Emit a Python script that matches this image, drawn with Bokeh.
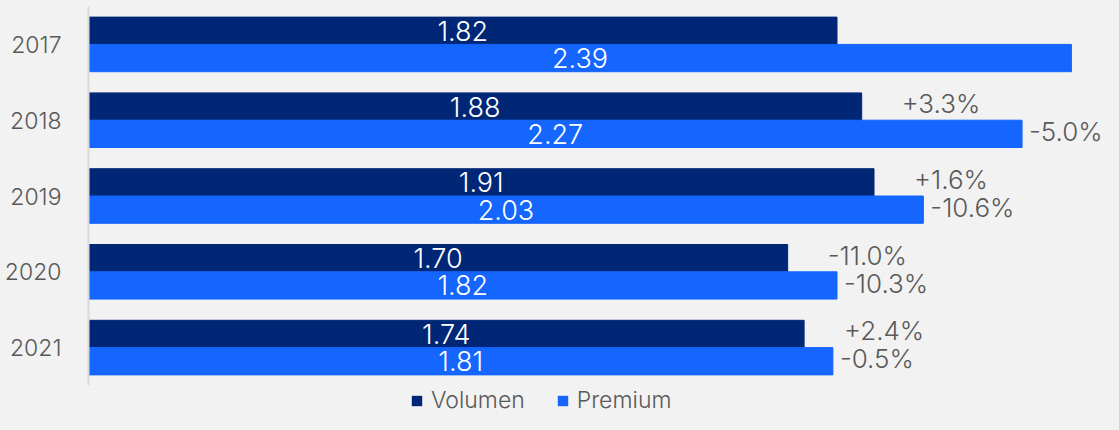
from bokeh.plotting import figure
from bokeh.models import ColumnDataSource, Legend, LegendItem, FactorRange, Range1d
from bokeh.layouts import column
from bokeh.transform import dodge
from bokeh.core.properties import value
from bokeh.embed import file_html
from bokeh.resources import INLINE

years = ["2017", "2018", "2019", "2020", "2021"]
volumen = [1.82, 1.88, 1.91, 1.70, 1.74]
premium = [2.39, 2.27, 2.03, 1.82, 1.81]
vol_change = ["", "+3.3%", "+1.6%", "-11.0%", "+2.4%"]
prem_change = ["", "-5.0%", "-10.6%", "-10.3%", "-0.5%"]
series = ["Volumen", "Premium"]

BG = "#f2f2f2"
NAVY = "#002776"
BLUE = "#1565ff"
GRAY = "#595959"
FONT = "Inter Light"

src = ColumnDataSource(dict(
    year=years,
    volumen=volumen,
    premium=premium,
    vol_half=[v / 2 for v in volumen],
    prem_half=[v / 2 for v in premium],
    vol_lbl=["%.2f" % v for v in volumen],
    prem_lbl=["%.2f" % v for v in premium],
    vol_change=vol_change,
    prem_change=prem_change,
))

p = figure(width=1103, height=385, y_range=FactorRange(factors=years[::-1]),
           x_range=(0, 2.468), output_backend="svg", toolbar_location=None,
           x_axis_location=None,
           background_fill_color=BG, border_fill_color=BG,
           min_border_left=88, min_border_right=0, min_border_top=6,
           min_border_bottom=0)
p.outline_line_color = None
p.grid.visible = False

p.hbar(y=dodge("year", 0.18, range=p.y_range), right="volumen", height=0.36,
       source=src, fill_color=NAVY, line_color=NAVY)
p.hbar(y=dodge("year", -0.18, range=p.y_range), right="premium", height=0.36,
       source=src, fill_color=BLUE, line_color=BLUE)

p.text(x="vol_half", y=dodge("year", 0.18, range=p.y_range), text="vol_lbl", source=src,
       text_color="white", text_font=value(FONT), text_font_size="27px",
       text_align="center", text_baseline="middle")
p.text(x="prem_half", y=dodge("year", -0.18, range=p.y_range), text="prem_lbl", source=src,
       text_color="white", text_font=value(FONT), text_font_size="27px",
       text_align="center", text_baseline="middle")
p.text(x="volumen", y=dodge("year", 0.22, range=p.y_range), text="vol_change", source=src,
       text_color=GRAY, text_font=value(FONT), text_font_size="26px", x_offset=40,
       text_align="left", text_baseline="middle")
p.text(x="premium", y=dodge("year", -0.15, range=p.y_range), text="prem_change", source=src,
       text_color=GRAY, text_font=value(FONT), text_font_size="26px", x_offset=7,
       text_align="left", text_baseline="middle")

ax = p.yaxis[0]
ax.axis_line_color = "#d9d9d9"
ax.axis_line_width = 2
ax.major_tick_line_color = None
ax.minor_tick_line_color = None
ax.major_label_text_font = FONT
ax.major_label_text_font_size = "23px"
ax.major_label_text_color = GRAY
ax.major_label_standoff = 21

# legend figure (no axes; its frame is aligned with the main plot's frame)
lf = figure(width=1103, height=29, x_range=Range1d(0, 1), y_range=Range1d(0, 1),
            output_backend="svg", toolbar_location=None,
            x_axis_location=None, y_axis_location=None,
            background_fill_color=BG, border_fill_color=BG,
            min_border=0)
lf.outline_line_color = None
lf.grid.visible = False
hidden = ColumnDataSource(dict(y=[0.5], left=[5], right=[6]))
rv = lf.hbar(y="y", left="left", right="right", height=0.5, source=hidden,
             fill_color=NAVY, line_color=None)
rp = lf.hbar(y="y", left="left", right="right", height=0.5, source=hidden,
             fill_color=BLUE, line_color=None)
legend = Legend(items=[LegendItem(label=series[0], renderers=[rv]),
                       LegendItem(label=series[1], renderers=[rp])],
                orientation="horizontal", location=(322, 0),
                background_fill_alpha=0, border_line_color=None,
                label_text_font=FONT, label_text_font_size="23px",
                label_text_color=GRAY, glyph_width=13, glyph_height=13,
                spacing=31, padding=0, margin=0, label_standoff=8)
lf.add_layout(legend)

layout = column(p, lf, spacing=0, background=BG)
html = file_html(layout, INLINE)
html = html.replace("</head>", "<style>html,body{background:%s;}</style></head>" % BG, 1)
open("out.html", "w").write(html)
